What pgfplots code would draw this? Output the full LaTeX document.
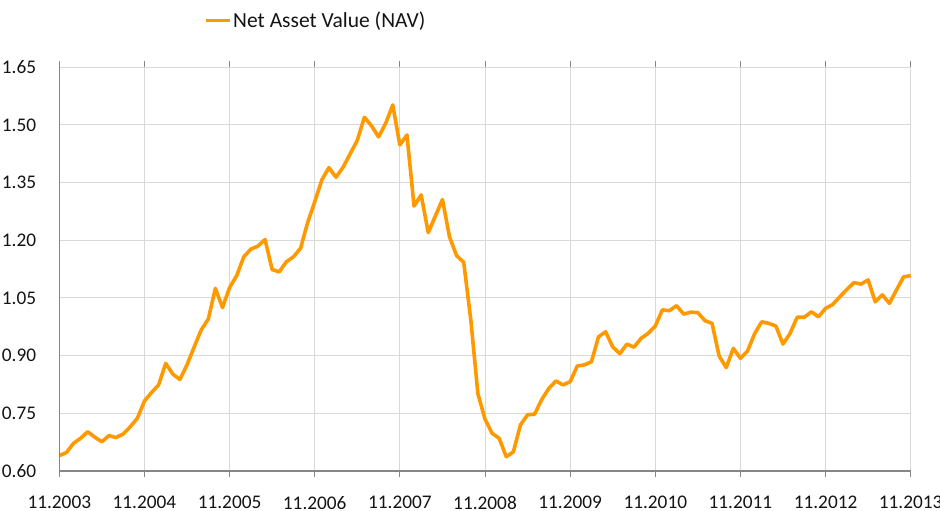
\documentclass[border=0pt]{standalone}
\usepackage{pgfplots}
\pgfplotsset{compat=1.18}
\usepackage{pgfplotstable}
\usepackage{fontspec}
\setmainfont{Carlito}
\definecolor{navorange}{RGB}{255,153,0}
\definecolor{gridgray}{RGB}{217,217,217}
\definecolor{axisgray}{RGB}{134,134,134}
\definecolor{textgray}{RGB}{20,20,20}

\pgfplotstableread{
m v
0 0.640
1 0.648
2 0.672
3 0.685
4 0.702
5 0.688
6 0.676
7 0.692
8 0.687
9 0.696
10 0.715
11 0.737
12 0.782
13 0.804
14 0.824
15 0.880
16 0.852
17 0.838
18 0.876
19 0.922
20 0.967
21 0.995
22 1.075
23 1.025
24 1.077
25 1.108
26 1.157
27 1.177
28 1.185
29 1.202
30 1.124
31 1.118
32 1.144
33 1.157
34 1.179
35 1.246
36 1.300
37 1.357
38 1.389
39 1.364
40 1.390
41 1.425
42 1.460
43 1.520
44 1.498
45 1.469
46 1.504
47 1.552
48 1.448
49 1.474
50 1.289
51 1.318
52 1.220
53 1.263
54 1.306
55 1.209
56 1.160
57 1.143
58 0.993
59 0.801
60 0.735
61 0.698
62 0.685
63 0.637
64 0.650
65 0.720
66 0.746
67 0.748
68 0.786
69 0.815
70 0.834
71 0.824
72 0.832
73 0.873
74 0.876
75 0.884
76 0.949
77 0.962
78 0.923
79 0.905
80 0.930
81 0.922
82 0.945
83 0.958
84 0.977
85 1.019
86 1.017
87 1.030
88 1.008
89 1.013
90 1.012
91 0.991
92 0.984
93 0.899
94 0.869
95 0.919
96 0.893
97 0.912
98 0.957
99 0.988
100 0.984
101 0.977
102 0.930
103 0.958
104 1.000
105 1.000
106 1.014
107 1.001
108 1.023
109 1.033
110 1.053
111 1.072
112 1.090
113 1.086
114 1.097
115 1.040
116 1.058
117 1.036
118 1.071
119 1.105
120 1.108
}\navdata

\begin{document}
\begin{tikzpicture}
\begin{axis}[
  at={(0pt,0pt)}, anchor=south west,
  scale only axis,
  width=851.4pt, height=403.7pt,
  xmin=0, xmax=120, ymin=0.60, ymax=1.65,
  xtick={0,12,...,120},
  xticklabels={11.2003,11.2004,11.2005,11.2006,11.2007,11.2008,11.2009,11.2010,11.2011,11.2012,11.2013},
  ytick={0.60,0.75,0.90,1.05,1.20,1.35,1.50,1.65},
  /pgf/number format/assume math mode=true,
  ticklabel style={font=\fontsize{19.3}{23}\selectfont, text=textgray},
  yticklabel style={anchor=east, inner sep=0pt, xshift=-17pt,
    /pgf/number format/fixed, /pgf/number format/fixed zerofill,
    /pgf/number format/precision=2},
  xticklabel style={anchor=north, inner sep=0pt, yshift=-19pt},
  grid=major,
  major grid style={draw=gridgray, line width=1pt},
  axis line style={draw=none},
  xtick style={draw=axisgray, line width=1pt},
  ytick style={draw=none},
  tick align=outside,
  major tick length=6pt,
  clip=false,
  legend style={at={(0.1700,1.117)}, anchor=west, draw=none, fill=none,
    inner sep=0pt, font=\fontsize{21.5}{25}\selectfont, text=textgray},
  legend image code/.code={\draw[#1, line width=3pt] (0pt,0pt) -- (24pt,0pt);},
  legend cell align=left,
]
\addplot[navorange, line width=3.6pt, line join=round] table[x=m, y=v] {\navdata};
\addlegendentry{Net Asset Value (NAV)}
\draw[axisgray, line width=1.2pt] (axis cs:0,1.65) -- (axis cs:0,0.60) -- (axis cs:120,0.60);
\end{axis}
\pgfresetboundingbox
\path[use as bounding box] (-59.3pt,-40pt) rectangle (880.7pt,471pt);
\end{tikzpicture}
\end{document}
